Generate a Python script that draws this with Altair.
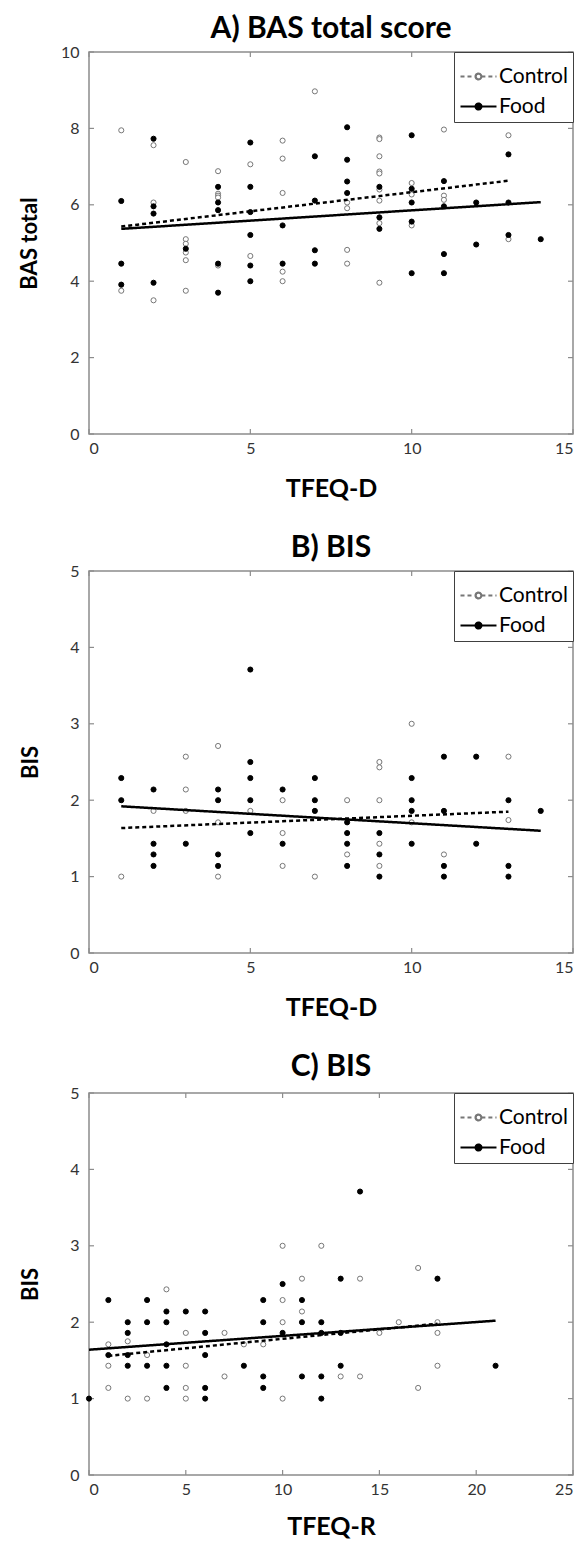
import altair as alt
import pandas as pd

FONT = "Lato"
FRAME = "#8c8c8c"
GROUPS = ["Control", "Food"]

# ---------------- Panel A: BAS total vs TFEQ-D ----------------
a_ctrl_x = [1, 1, 2, 2, 2, 3, 3, 3, 3, 3, 3, 4, 4, 4, 4, 4, 5, 5, 6, 6, 6, 6, 6, 7,
            8, 8, 8, 8, 9, 9, 9, 9, 9, 9, 9, 9, 9, 10, 10, 10, 11, 11, 11, 13, 13]
a_ctrl_y = [7.95, 3.75, 7.56, 6.06, 3.5, 7.12, 5.1, 4.98, 4.75, 4.55, 3.75,
            6.88, 6.29, 6.24, 6.19, 4.41, 7.06, 4.66, 7.68, 7.21, 6.31, 4.25, 4.0, 8.97,
            6.06, 5.91, 4.82, 4.46, 7.76, 7.72, 7.27, 6.87, 6.82, 6.40, 6.11, 5.52, 3.96,
            6.57, 6.27, 5.46, 7.97, 6.24, 6.13, 7.82, 5.10]
a_food_x = [1, 1, 1, 2, 2, 2, 2, 3, 4, 4, 4, 4, 4, 5, 5, 5, 5, 5, 5, 6, 6, 7, 7, 7, 7,
            8, 8, 8, 8, 9, 9, 9, 10, 10, 10, 10, 10, 11, 11, 11, 11, 12, 12, 13, 13, 13, 14]
a_food_y = [6.1, 4.46, 3.91, 7.73, 5.96, 5.77, 3.96, 4.85, 6.47, 6.06, 5.86, 4.46, 3.7,
            7.63, 6.47, 5.81, 5.21, 4.41, 4.0, 5.46, 4.46, 7.27, 6.11, 4.81, 4.46,
            8.03, 7.18, 6.61, 6.31, 6.47, 5.67, 5.37, 7.82, 6.42, 6.06, 5.56, 4.21,
            6.62, 5.96, 4.71, 4.21, 6.06, 4.96, 7.32, 6.06, 5.21, 5.1]
a_line_group = ["Control", "Control", "Food", "Food"]
a_line_x = [1, 13, 1, 14]
a_line_y = [5.43, 6.63, 5.37, 6.07]
a_xticks = [0, 5, 10, 15]
a_yticks = [0, 2, 4, 6, 8, 10]

# ---------------- Panel B: BIS vs TFEQ-D ----------------
b_ctrl_x = [1, 2, 3, 3, 3, 4, 4, 4, 5, 6, 6, 6, 7, 8, 8, 9, 9, 9, 9, 9, 10, 10, 11, 13, 13]
b_ctrl_y = [1.0, 1.86, 2.57, 2.14, 1.86, 2.71, 1.71, 1.0, 1.86, 2.0, 1.57, 1.14, 1.0,
            2.0, 1.29, 2.5, 2.43, 2.0, 1.43, 1.14, 3.0, 1.71, 1.29, 2.57, 1.74]
b_food_x = [1, 1, 2, 2, 2, 2, 3, 4, 4, 4, 4, 5, 5, 5, 5, 5, 6, 6, 7, 7, 7, 8, 8, 8, 8,
            9, 9, 9, 10, 10, 10, 10, 11, 11, 11, 11, 12, 12, 13, 13, 13, 14]
b_food_y = [2.29, 2.0, 2.14, 1.43, 1.29, 1.14, 1.43, 2.14, 2.0, 1.29, 1.14,
            3.71, 2.5, 2.29, 2.0, 1.57, 2.14, 1.43, 2.29, 2.0, 1.86, 1.71, 1.57, 1.43, 1.14,
            1.57, 1.29, 1.0, 2.29, 2.0, 1.86, 1.43, 2.57, 1.86, 1.14, 1.0, 2.57, 1.43,
            2.0, 1.14, 1.0, 1.86]
b_line_group = ["Control", "Control", "Food", "Food"]
b_line_x = [1, 13, 1, 14]
b_line_y = [1.635, 1.85, 1.92, 1.60]
b_xticks = [0, 5, 10, 15]
b_yticks = [0, 1, 2, 3, 4, 5]

# ---------------- Panel C: BIS vs TFEQ-R ----------------
c_ctrl_x = [1, 1, 1, 2, 2, 3, 3, 4, 5, 5, 5, 5, 7, 7, 8, 9, 10, 10, 10, 10, 11, 11, 12,
            13, 14, 14, 15, 16, 17, 17, 18, 18, 18]
c_ctrl_y = [1.71, 1.43, 1.14, 1.75, 1.0, 1.57, 1.0, 2.43, 1.86, 1.43, 1.14, 1.0,
            1.86, 1.29, 1.71, 1.71, 3.0, 2.29, 2.0, 1.0, 2.57, 2.14, 3.0,
            1.29, 2.57, 1.29, 1.86, 2.0, 2.71, 1.14, 2.0, 1.86, 1.43]
c_food_x = [0, 1, 1, 2, 2, 2, 2, 3, 3, 3, 4, 4, 4, 4, 4, 5, 6, 6, 6, 6, 6, 8,
            9, 9, 9, 9, 10, 10, 11, 11, 11, 12, 12, 12, 12, 13, 13, 13, 14, 18, 21]
c_food_y = [1.0, 2.29, 1.57, 2.0, 1.86, 1.57, 1.43, 2.29, 2.0, 1.43,
            2.14, 2.0, 1.71, 1.43, 1.14, 2.14, 2.14, 1.86, 1.57, 1.14, 1.0, 1.43,
            2.29, 2.0, 1.29, 1.14, 2.5, 1.86, 2.29, 2.0, 1.29, 2.0, 1.86, 1.29, 1.0,
            2.57, 1.86, 1.43, 3.71, 2.57, 1.43]
c_line_group = ["Control", "Control", "Food", "Food"]
c_line_x = [1, 18, 0, 21]
c_line_y = [1.56, 1.98, 1.64, 2.02]
c_xticks = [0, 5, 10, 15, 20, 25]
c_yticks = [0, 1, 2, 3, 4, 5]

W, H = 484, 382
TICK = 5
# legend glyph: small circle marker (drawn twice so a dash pattern cannot break it)
# plus a line on each side of it
LEGEND_PATH = ("M-0.16,0A0.16,0.16 0 1,1 0.16,0A0.16,0.16 0 1,1 -0.16,0"
               "A0.16,0.16 0 1,1 0.16,0A0.16,0.16 0 1,1 -0.16,0"
               "M-1,0H-0.16M0.16,0H1")


def panel(title, xtitle, ytitle, xticks, yticks, cx, cy, fx, fy, lg, lx, ly,
          ytitle_pad, xtitle_pad, title_offset):
    pts = pd.DataFrame({
        "x": cx + fx,
        "y": cy + fy,
        "group": ["Control"] * len(cx) + ["Food"] * len(fx),
    })
    lines = pd.DataFrame({"x": lx, "y": ly, "group": lg})
    xs = alt.Scale(domain=[xticks[0], xticks[-1]], nice=False, zero=False)
    ys = alt.Scale(domain=[yticks[0], yticks[-1]], nice=False, zero=False)

    legend = alt.Legend(
        title=None, orient="top-right", offset=0,
        symbolType=LEGEND_PATH, symbolSize=1296, symbolStrokeWidth=2.2,
        symbolStrokeColor="black",
        labelFont=FONT, labelFontSize=21, labelColor="black", labelOffset=1,
        strokeColor="#404040", fillColor="white", padding=5, rowPadding=0,
    )

    points = alt.Chart(pts).mark_point(filled=True, size=26, strokeWidth=1, opacity=1).encode(
        x=alt.X("x:Q", scale=xs, axis=alt.Axis(title=xtitle, values=xticks, titlePadding=xtitle_pad,
                                                titleFontSize=25, labelPadding=6, format="d")),
        y=alt.Y("y:Q", scale=ys, axis=alt.Axis(title=ytitle, values=yticks, titlePadding=ytitle_pad,
                                                titleFontSize=22, labelPadding=10, format="d")),
        fill=alt.Fill("group:N", scale=alt.Scale(domain=GROUPS, range=["white", "black"]), legend=legend),
        stroke=alt.Stroke("group:N", scale=alt.Scale(domain=GROUPS, range=["#777777", "black"]), legend=None),
    )
    trend = alt.Chart(lines).mark_line(color="black", strokeWidth=2.5).encode(
        x=alt.X("x:Q", scale=xs),
        y=alt.Y("y:Q", scale=ys),
        strokeDash=alt.StrokeDash("group:N", scale=alt.Scale(domain=GROUPS, range=[[4, 3], [1, 0]]),
                                  legend=legend),
    )
    ydf = pd.DataFrame({"y": yticks})
    xdf = pd.DataFrame({"x": xticks})
    tick_l = alt.Chart(ydf).mark_rule(color=FRAME, strokeWidth=1.2).encode(
        y=alt.Y("y:Q", scale=ys), x=alt.value(0), x2=alt.value(TICK))
    tick_r = alt.Chart(ydf).mark_rule(color=FRAME, strokeWidth=1.2).encode(
        y=alt.Y("y:Q", scale=ys), x=alt.value(W - TICK), x2=alt.value(W))
    tick_b = alt.Chart(xdf).mark_rule(color=FRAME, strokeWidth=1.2).encode(
        x=alt.X("x:Q", scale=xs), y=alt.value(H), y2=alt.value(H - TICK))
    tick_t = alt.Chart(xdf).mark_rule(color=FRAME, strokeWidth=1.2).encode(
        x=alt.X("x:Q", scale=xs), y=alt.value(0), y2=alt.value(TICK))

    return alt.layer(tick_l, tick_r, tick_b, tick_t, points, trend).properties(
        width=W, height=H,
        title=alt.TitleParams(title, font=FONT, fontSize=30, fontWeight="bold", color="black",
                              anchor="middle", frame="group", offset=title_offset),
    )


pa = panel("A) BAS total score", "TFEQ-D", "BAS total", a_xticks, a_yticks,
           a_ctrl_x, a_ctrl_y, a_food_x, a_food_y, a_line_group, a_line_x, a_line_y, 19, 20, 0)
pb = panel("B) BIS", "TFEQ-D", "BIS", b_xticks, b_yticks,
           b_ctrl_x, b_ctrl_y, b_food_x, b_food_y, b_line_group, b_line_x, b_line_y, 27, 20, 0)
pc = panel("C) BIS", "TFEQ-R", "BIS", c_xticks, c_yticks,
           c_ctrl_x, c_ctrl_y, c_food_x, c_food_y, c_line_group, c_line_x, c_line_y, 27, 17, 3)

chart = alt.vconcat(pa, pb, pc, spacing=30).resolve_scale(
    x="independent", y="independent", fill="independent", stroke="independent",
    strokeDash="independent",
).resolve_legend(fill="independent", strokeDash="independent").configure(
    padding={"left": 9, "top": 5, "right": 0, "bottom": 0},
).configure_view(
    stroke=FRAME, strokeWidth=1.5,
).configure_axis(
    domain=False, ticks=False, grid=False,
    labelFont=FONT, labelFontSize=16, labelColor="#333333",
    titleFont=FONT, titleFontWeight="bold", titleColor="black",
)

chart.save("out.html", embed_options={"renderer": "svg", "actions": False})
